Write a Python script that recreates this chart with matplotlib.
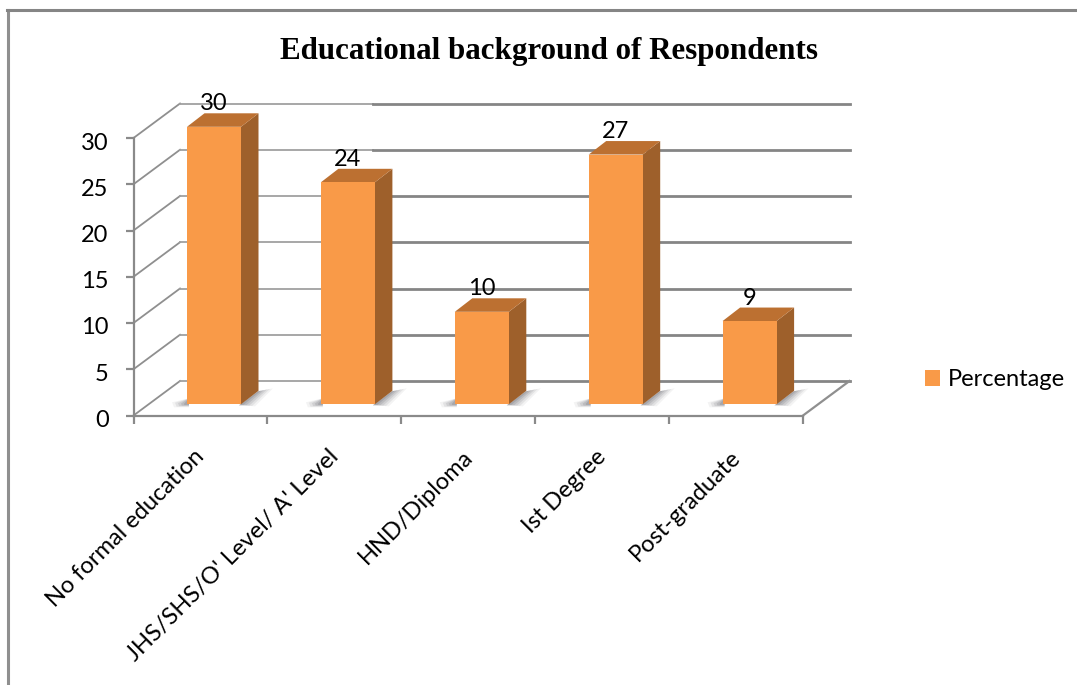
import matplotlib
matplotlib.use("Agg")
import matplotlib.pyplot as plt
from matplotlib.lines import Line2D
from matplotlib.transforms import ScaledTranslation

categories = ["No formal education", "JHS/SHS/O' Level/ A' Level", "HND/Diploma", "Ist Degree", "Post-graduate"]
values = [30, 24, 10, 27, 9]
y_ticks = [0, 5, 10, 15, 20, 25, 30]
series_name = "Percentage"
title = "Educational background of Respondents"

W, H = 1077, 685
fig = plt.figure(figsize=(W / 100, H / 100), dpi=100, facecolor="white")
L, R, B0, T30 = 133.5, 803, 415.5, 138
ax = fig.add_axes([L / W, 1 - B0 / H, (R - L) / W, (B0 - T30) / H])
ax.set_xlim(0, 5)
ax.set_ylim(0, 30)
ax.patch.set_visible(False)
for s in ("top", "right"):
    ax.spines[s].set_visible(False)
for s in ("left", "bottom"):
    ax.spines[s].set_color("#8a8a8a")
    ax.spines[s].set_linewidth(1.6)

px, py = (R - L) / 5, (B0 - T30) / 30
wall_dx, wall_dy = 46.5 / px, 34.5 / py
bar_dx, bar_dy = 17.5 / px, 13.5 / py
bar_w, bar_off, bar_base = 54 / px, 53.5 / px, 11.2 / py

# walls
for v in y_ticks:
    ax.plot([0, wall_dx], [v, v + wall_dy], color="#8f8f8f", lw=1.3, clip_on=False, zorder=1)
    ax.plot([wall_dx, 1.79], [v + wall_dy] * 2, color="#a0a0a0", lw=1.3, clip_on=False, zorder=1)
    ax.plot([1.79, 5 + wall_dx], [v + wall_dy] * 2, color="#858585", lw=2.0, clip_on=False, zorder=1)
ax.plot([5, 5 + wall_dx], [0, wall_dy], color="#8f8f8f", lw=1.6, clip_on=False, zorder=1)

# bars
lefts = [i + bar_off for i in range(len(values))]
FRONT, SIDE, TOP = "#F99A48", "#9E602B", "#BC7031"
SHADOW = "#55555f"
for x, v in zip(lefts, values):
    # soft floor shadow, in pixel offsets from the bar's base
    for k, a in zip((1.0, 0.8, 0.6, 0.4, 0.2), (0.07, 0.10, 0.13, 0.16, 0.2)):
        right = [(52, -1), (71, 13), (71 + 15 * k, 13 + 3 * k), (54 + 14 * k, -2 * k)]
        left = [(2, 6), (2, -3 * k), (-13 * k, -3 * k), (-15 * k, 2 * k)]
        for pts in (right, left):
            ax.fill([x + p[0] / px for p in pts], [bar_base + p[1] / py for p in pts],
                    color=SHADOW, alpha=a, lw=0, zorder=2, clip_on=False)
    ax.fill([x + bar_w, x + bar_w + bar_dx, x + bar_w + bar_dx, x + bar_w],
            [bar_base, bar_base + bar_dy, bar_base + v + bar_dy, bar_base + v],
            color=SIDE, lw=0, zorder=3, clip_on=False)
    ax.fill([x, x + bar_dx, x + bar_w + bar_dx, x + bar_w],
            [bar_base + v, bar_base + v + bar_dy, bar_base + v + bar_dy, bar_base + v],
            color=TOP, lw=0, zorder=3, clip_on=False)
bars = ax.bar(lefts, values, width=bar_w, bottom=bar_base, align="edge", color=FRONT,
              label=series_name, zorder=4, clip_on=False, linewidth=0)

# value labels
for x, v in zip(lefts, values):
    ax.annotate(str(v), (x + bar_w / 2, bar_base + v), xytext=(0, 16.5), textcoords="offset points",
                ha="center", va="center", fontsize=17, family="Lato", color="black",
                zorder=6, annotation_clip=False)

# axes ticks and labels
ax.set_yticks(y_ticks)
ax.set_xticks(range(len(categories) + 1))
ax.set_xticklabels([])
ax.tick_params(axis="both", which="major", color="#8a8a8a", width=1.6, length=6)
ax.tick_params(axis="y", labelsize=17, pad=12)
for lab in ax.get_yticklabels():
    lab.set_family("Lato")
    lab.set_transform(lab.get_transform() + ScaledTranslation(0, -3 / 100, fig.dpi_scale_trans))
ax.set_xticks([i + 0.45 for i in range(len(categories))], minor=True)
ax.set_xticklabels(categories, minor=True, rotation=45, ha="right", va="top",
                   rotation_mode="anchor", fontsize=17, family="Lato")
ax.tick_params(axis="x", which="minor", length=0, pad=22)

# title
fig.text(549 / W, 1 - 51 / H, title, ha="center", va="center", fontsize=22.3,
         fontweight="bold", family="Liberation Serif")

# legend
leg = fig.legend(handles=[bars], labels=[series_name], loc="center left",
                 bbox_to_anchor=(925 / W, 1 - 379.5 / H), frameon=False,
                 prop={"family": "Lato", "size": 17}, handlelength=0.65, handleheight=0.65,
                 handletextpad=0.3, borderpad=0, borderaxespad=0)

# outer frame
fig.add_artist(Line2D([7.5 / W, 7.5 / W], [1 - 683 / H, 1 - 9.5 / H], color="#8f8f8f", lw=2.2))
fig.add_artist(Line2D([6.5 / W, 1], [1 - 9.5 / H, 1 - 9.5 / H], color="#858585", lw=2.2))

fig.savefig("out.png", dpi=100)
